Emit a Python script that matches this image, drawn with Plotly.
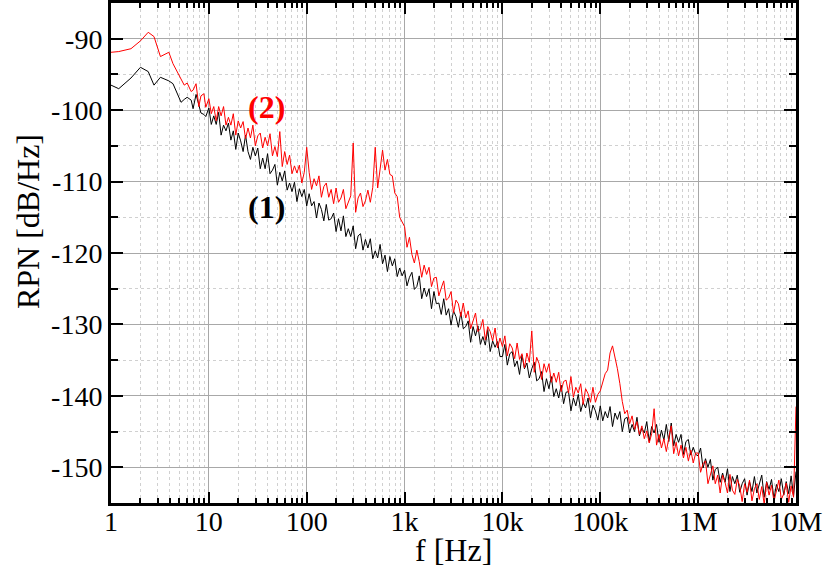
import plotly.graph_objects as go

# ---------------- data ----------------
# low-frequency points (Hz), 1 .. 10 Hz
LOW_F = [1, 1.2, 1.6, 2.0, 2.4, 2.75, 3.2, 3.9, 4.3, 4.8, 5.2, 5.6, 6.0, 6.6, 6.9, 7.4, 7.9, 8.3, 8.9, 9.3]
# mantissas used within each decade from 10 Hz to 10 MHz (40 per decade)
MANT = [1.000, 1.059, 1.122, 1.189, 1.259, 1.334, 1.413, 1.496, 1.585, 1.679,
        1.778, 1.884, 1.995, 2.113, 2.239, 2.371, 2.512, 2.661, 2.818, 2.985,
        3.162, 3.350, 3.548, 3.758, 3.981, 4.217, 4.467, 4.732, 5.012, 5.309,
        5.623, 5.957, 6.310, 6.683, 7.079, 7.499, 7.943, 8.414, 8.913, 9.441]
DECADES = [10, 100, 1e3, 1e4, 1e5, 1e6]
LAST_F = 1e7

# ---- series (1), black ----
black_low = [-96.5, -97.0, -95.5, -94.0, -94.6, -96.5, -95.4, -95.9, -96.3, -97.8, -98.9, -98.5,
             -98.2, -98.6, -99.8, -97.8, -99.5, -100.4, -100.6, -100.9]
black_10 = [-99.7, -102.0, -100.8, -102.0, -100.3, -103.5, -102.1, -102.9, -101.8, -104.2,
            -102.9, -105.5, -103.2, -104.3, -105.8, -103.5, -105.8, -106.9, -105.2, -106.4,
            -105.3, -108.2, -106.7, -108.2, -106.1, -108.9, -108.4, -107.6, -110.5, -108.7,
            -109.9, -108.5, -111.2, -110.2, -111.4, -110.1, -112.8, -111.0, -112.1, -111.1]
black_100 = [-113.4, -111.7, -113.4, -112.8, -115.1, -113.0, -113.9, -115.5, -113.2, -115.4,
             -115.2, -114.4, -117.0, -115.2, -116.9, -114.8, -117.7, -116.6, -117.7, -116.2,
             -119.4, -117.6, -117.3, -119.6, -118.1, -119.3, -118.0, -120.8, -119.7, -120.7,
             -118.8, -121.5, -120.3, -122.6, -120.5, -121.8, -120.8, -123.3, -122.1, -123.2]
black_1k = [-122.4, -124.6, -123.4, -122.7, -125.1, -124.7, -123.2, -126.4, -124.9, -126.1,
            -125.0, -127.8, -125.4, -127.1, -127.0, -128.6, -126.4, -128.7, -127.8, -130.1,
            -128.1, -128.9, -130.4, -128.3, -130.6, -130.3, -129.5, -132.5, -130.3, -131.6,
            -130.2, -132.8, -131.7, -132.9, -130.7, -133.8, -132.3, -133.2, -132.4, -134.5]
black_10k = [-134.5, -132.8, -135.7, -134.1, -133.8, -135.9, -135.1, -137.0, -134.3, -136.2,
             -135.4, -137.5, -136.2, -135.3, -137.9, -137.6, -136.6, -139.4, -137.6, -139.0,
             -137.3, -140.1, -139.0, -140.3, -138.5, -141.1, -139.5, -139.4, -142.1, -140.3,
             -141.4, -139.8, -142.2, -140.9, -141.7, -140.3, -143.1, -141.3, -142.1, -143.4]
black_100k = [-141.4, -143.5, -142.2, -143.1, -141.5, -144.3, -142.4, -143.3, -142.2, -145.0,
              -143.2, -143.0, -145.2, -144.0, -145.0, -143.0, -145.6, -144.5, -145.2, -143.6,
              -146.4, -144.3, -145.2, -144.0, -146.5, -144.8, -146.2, -144.0, -146.4, -143.8,
              -147.0, -145.4, -146.5, -145.4, -148.2, -146.4, -146.1, -148.3, -147.2, -148.2]
black_1M = [-148.4, -147.3, -150.1, -148.8, -150.0, -148.9, -151.8, -150.3, -150.0, -152.1,
            -150.8, -152.1, -150.2, -153.4, -151.3, -152.3, -151.1, -153.5, -152.3, -151.6,
            -153.9, -152.0, -153.4, -151.3, -153.6, -152.5, -151.1, -154.2, -152.0, -153.1,
            -151.7, -154.4, -152.4, -153.4, -151.6, -153.9, -152.0, -153.7, -151.2, -154.0]
black_last = -150.6

# ---- series (2), red ----
red_low = [-91.9, -91.8, -91.4, -90.3, -89.1, -89.7, -92.5, -91.9, -93.5, -94.7, -95.5, -96.5,
           -96.2, -97.4, -97.2, -96.3, -99.5, -98.0, -97.7, -99.6]
red_10 = [-98.4, -100.5, -99.5, -101.5, -99.5, -100.8, -99.5, -102.1, -101.0, -102.1,
          -100.5, -103.5, -101.5, -102.5, -101.6, -104.0, -102.5, -103.9, -102.1, -105.0,
          -103.6, -103.2, -105.3, -103.8, -105.0, -103.3, -106.4, -105.1, -106.5, -103.0,
          -107.9, -105.8, -107.6, -106.3, -108.9, -107.8, -108.8, -107.7, -110.2, -108.7]
red_100 = [-105.2, -108.7, -111.1, -109.6, -110.6, -109.2, -112.2, -110.7, -110.2, -112.2,
           -111.1, -113.1, -110.9, -112.9, -112.3, -111.1, -113.8, -113.0, -112.0, -104.6,
           -114.3, -112.3, -111.6, -113.5, -112.7, -111.2, -112.9, -110.8, -105.2, -110.9,
           -108.6, -105.6, -108.4, -106.9, -109.0, -109.2, -111.6, -112.1, -115.0, -115.6]
red_1k = [-116.3, -119.2, -117.8, -120.2, -121.4, -119.6, -121.2, -123.4, -121.7, -123.0,
          -122.0, -124.7, -123.5, -123.4, -126.0, -124.9, -123.9, -126.6, -126.3, -125.4,
          -128.4, -126.6, -127.1, -128.9, -127.0, -129.1, -128.1, -130.6, -129.4, -128.4,
          -131.0, -130.6, -129.3, -132.2, -130.3, -131.0, -132.3, -130.5, -133.3, -131.9]
red_10k = [-133.1, -131.6, -134.4, -132.7, -133.3, -134.8, -132.6, -134.9, -134.1, -136.1,
           -134.0, -135.3, -130.9, -136.7, -134.6, -135.5, -137.7, -135.5, -136.7, -135.5,
           -138.1, -136.8, -138.1, -136.7, -139.4, -138.0, -137.8, -139.6, -137.3, -140.2,
           -138.8, -139.6, -138.3, -141.2, -139.0, -139.7, -140.9, -138.8, -140.9, -139.8]
red_100k = [-139.3, -138.0, -136.9, -136.4, -134.0, -133.0, -134.5, -136.2, -138.3, -140.8,
            -142.5, -142.0, -143.9, -142.8, -144.7, -143.6, -145.4, -144.2, -146.0, -144.9,
            -146.6, -145.3, -141.8, -146.9, -145.4, -147.3, -146.0, -147.8, -145.9, -144.2,
            -148.1, -146.5, -148.4, -146.9, -148.7, -147.2, -149.1, -147.6, -149.4, -148.0]
red_1M = [-148.0, -150.7, -149.5, -149.1, -152.3, -151.1, -149.8, -152.3, -151.1, -153.6,
          -151.1, -152.1, -153.6, -151.0, -153.2, -153.8, -151.7, -152.6, -154.8, -152.3,
          -153.5, -151.8, -154.7, -153.0, -152.3, -154.5, -152.7, -155.2, -152.1, -153.9,
          -152.5, -154.8, -153.1, -151.8, -154.5, -153.7, -152.2, -154.9, -152.6, -154.2]
red_last = -141.5

X_TICK_LABELS = ['1', '10', '100', '1k', '10k', '100k', '1M', '10M']
Y_TICKS = [-90, -100, -110, -120, -130, -140, -150]

# ---------------- assemble ----------------
freq = list(LOW_F)
for d in DECADES:
    freq += [m * d for m in MANT]
freq.append(LAST_F)

black = black_low + black_10 + black_100 + black_1k + black_10k + black_100k + black_1M + [black_last]
red = red_low + red_10 + red_100 + red_1k + red_10k + red_100k + red_1M + [red_last]

FONT = "Liberation Serif"

fig = go.Figure()
fig.add_trace(go.Scatter(x=freq, y=black, mode='lines', line=dict(color='black', width=1), name='(1)'))
fig.add_trace(go.Scatter(x=freq, y=red, mode='lines', line=dict(color='#ff0000', width=1), name='(2)'))

fig.update_layout(
    width=830, height=579,
    margin=dict(l=111, r=34, t=3, b=76, autoexpand=False),
    paper_bgcolor='white', plot_bgcolor='white',
    showlegend=False,
    font=dict(family=FONT, size=28, color='black'),
)

fig.update_xaxes(
    type='log', range=[0, 7], automargin=False,
    tickmode='array', tickvals=[10 ** i for i in range(8)], ticktext=X_TICK_LABELS,
    ticks='inside', ticklen=11, tickwidth=2, tickcolor='black',
    ticklabelstandoff=-9,
    showline=True, linewidth=3, linecolor='black', mirror='allticks',
    showgrid=True, gridcolor='#a8a8a8', gridwidth=1,
    minor=dict(tickmode='array',
               tickvals=[m * 10 ** e for e in range(7) for m in range(2, 10)],
               ticks='inside', ticklen=5, tickcolor='black', tickwidth=1.5,
               showgrid=True, gridcolor='#d0d0d0', griddash='dot', gridwidth=1),
    tickfont=dict(family=FONT, size=28),
    zeroline=False,
)
fig.update_yaxes(
    range=[-155, -85], automargin=False,
    tickmode='array', tickvals=Y_TICKS, ticktext=[str(v) for v in Y_TICKS],
    ticks='inside', ticklen=12, tickwidth=2, tickcolor='black',
    showline=True, linewidth=3, linecolor='black', mirror='allticks',
    showgrid=True, gridcolor='#a8a8a8', gridwidth=1,
    minor=dict(tickmode='array', tickvals=[-85, -95, -105, -115, -125, -135, -145, -155],
               ticks='inside', ticklen=7, tickcolor='black', tickwidth=1.5,
               showgrid=True, gridcolor='#d0d0d0', griddash='dot', gridwidth=1),
    tickfont=dict(family=FONT, size=28),
    zeroline=False,
)

# axis titles
fig.add_annotation(text='f [Hz]', xref='paper', yref='paper', x=0.5, y=-0.094,
                   xanchor='center', yanchor='middle', showarrow=False,
                   font=dict(family=FONT, size=32))
fig.add_annotation(text='RPN [dB/Hz]', xref='paper', yref='paper', x=-0.121, y=0.562,
                   xanchor='center', yanchor='middle', showarrow=False, textangle=-90,
                   font=dict(family=FONT, size=32))

# curve labels
fig.add_annotation(text='<b>(2)</b>', x=1.594, y=-99.6, xref='x', yref='y', showarrow=False,
                   font=dict(family=FONT, size=32, color='#ff0000'))
fig.add_annotation(text='<b>(1)</b>', x=1.584, y=-113.6, xref='x', yref='y', showarrow=False,
                   font=dict(family=FONT, size=32, color='black'))

fig.write_html("out.html",
               config={'displayModeBar': False},
               post_script="document.body.style.margin='0';document.body.style.overflow='hidden';")
